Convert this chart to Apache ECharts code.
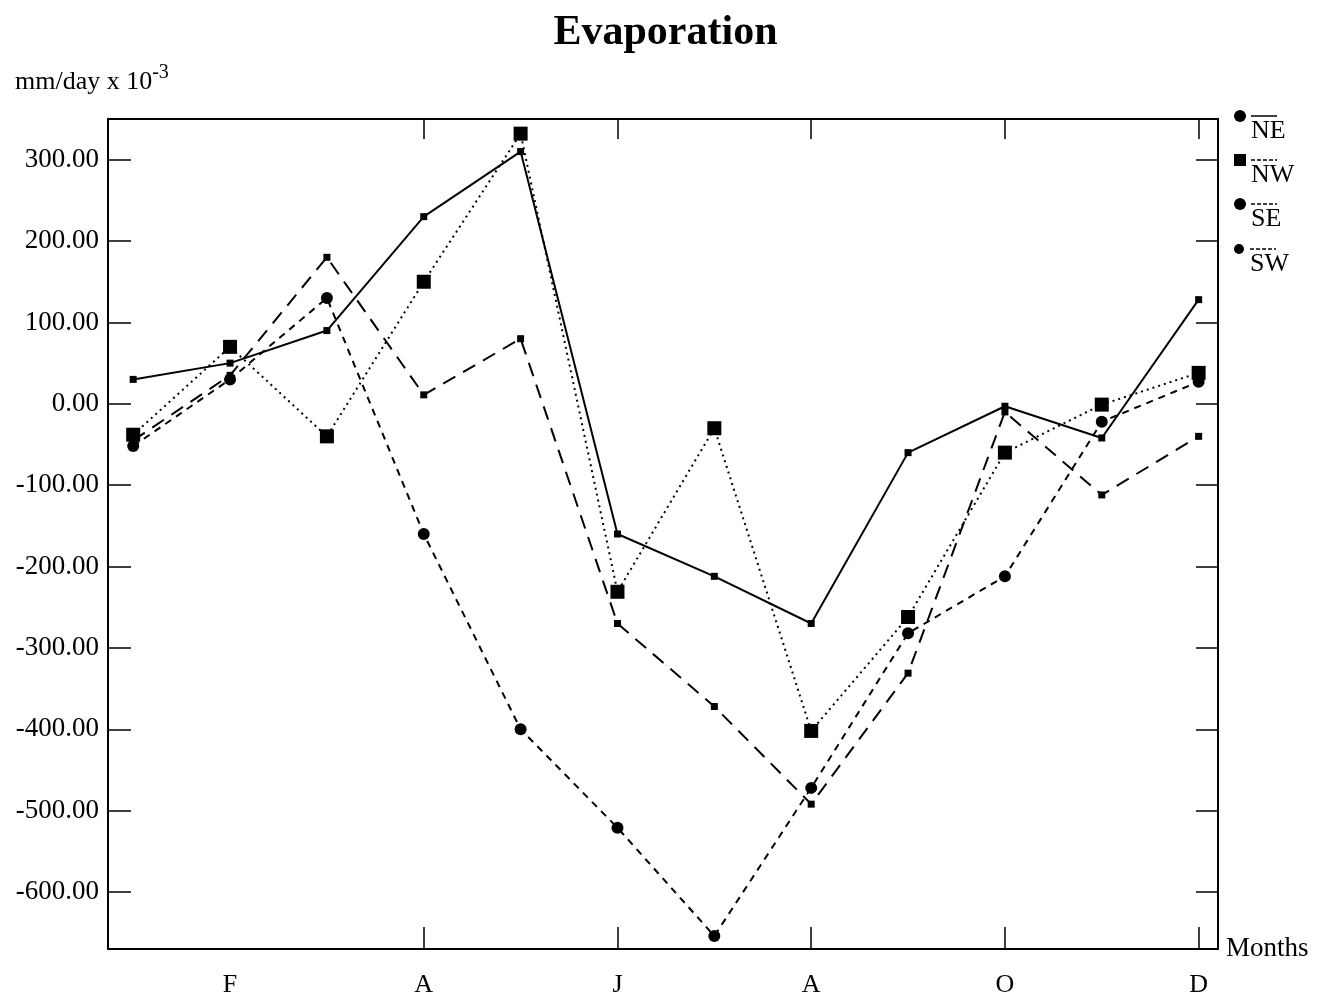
<!DOCTYPE html>
<html>
<head>
<meta charset="utf-8">
<script src="https://cdn.jsdelivr.net/npm/echarts@6/dist/echarts.min.js"></script>
<style>
  html, body { margin: 0; padding: 0; background: #fff; }
  #chart { width: 1331px; height: 1001px; }
</style>
</head>
<body>
<div id="chart"></div>
<script>
// months 1..12, only every other one gets a label
const months = [1, 2, 3, 4, 5, 6, 7, 8, 9, 10, 11, 12]
const monthLetters = ['J', 'F', 'M', 'A', 'M', 'J', 'J', 'A', 'S', 'O', 'N', 'D']
const labelMonths = [2, 4, 6, 8, 10, 12]
const tickMonths = [4, 6, 8, 10, 12]
const yTicks = [-600, -500, -400, -300, -200, -100, 0, 100, 200, 300]

// evaporation, mm/day x 10^-3
const ne = [30, 50, 90, 230, 310, -160, -212, -270, -60, -3, -42, 128]
const nw = [-38, 70, -40, 150, 332, -231, -30, -402, -262, -60, -1, 38]
const se = [-52, 30, 130, -160, -400, -521, -654, -472, -282, -212, -22, 27]
const sw = [-45, 35, 180, 11, 80, -270, -372, -492, -331, -10, -112, -40]

const FONT = 'Liberation Serif'

function pairs(vals) {
  return months.map((m, i) => [m, vals[i]])
}

// line style, marker and legend sample per series
const seriesDefs = [
  { name: 'NE', data: ne, type: 'solid', symbol: 'rect', size: 7, icon: 'circle', top: 105 },
  { name: 'NW', data: nw, type: [2, 4], symbol: 'rect', size: 14, icon: 'rect', top: 149 },
  { name: 'SE', data: se, type: [7, 6], symbol: 'circle', size: 12, icon: 'circle', top: 193 },
  { name: 'SW', data: sw, type: [14, 9], symbol: 'rect', size: 7, icon: 'circle', top: 238 },
]

const series = seriesDefs.map((d) => ({
  name: d.name,
  type: 'line',
  data: pairs(d.data),
  symbol: d.symbol,
  symbolSize: d.size,
  itemStyle: { color: '#000' },
  lineStyle: { color: '#000', width: 2, type: d.type },
  emphasis: { disabled: true },
  animation: false,
}))

const legends = seriesDefs.map((d) => ({
  show: true,
  selectedMode: false,
  left: 1229,
  top: d.top,
  itemWidth: 12,
  itemHeight: d.name === 'SW' ? 10 : 12,
  itemGap: 0,
  data: [{ name: d.name, icon: d.icon }],
  formatter: '{ln|}\n{t|{name}}',
  textStyle: {
    rich: {
      ln: {
        width: 26,
        height: 0,
        lineHeight: 30,
        verticalAlign: 'bottom',
        borderColor: '#000',
        borderWidth: 1,
        borderType: d.type === 'solid' ? 'solid' : 'dashed',
      },
      t: {
        fontFamily: FONT,
        fontSize: 26,
        color: '#000',
        lineHeight: 30,
      },
    },
  },
}))

const chart = echarts.init(document.getElementById('chart'))

chart.setOption({
  backgroundColor: '#fff',
  animation: false,
  title: [
    {
      text: 'Evaporation',
      left: 'center',
      top: 7,
      textStyle: { fontFamily: FONT, fontSize: 42, fontWeight: 'bold', color: '#000' },
    },
    {
      text: '{a|mm/day x 10}{s|-3}',
      left: 10,
      top: 58,
      textStyle: {
        fontWeight: 'normal',
        rich: {
          a: { fontFamily: FONT, fontSize: 26, fontWeight: 'normal', color: '#000', verticalAlign: 'bottom', lineHeight: 32 },
          s: { fontFamily: FONT, fontSize: 20, fontWeight: 'normal', color: '#000', verticalAlign: 'top', lineHeight: 32 },
        },
      },
    },
  ],
  legend: legends,
  grid: { left: 108, right: 113, top: 119, bottom: 52 },
  xAxis: [
    {
      type: 'value',
      min: 0.74,
      max: 12.2,
      position: 'bottom',
      name: 'Months',
      nameLocation: 'end',
      nameGap: 8,
      nameTextStyle: { fontFamily: FONT, fontSize: 27, color: '#000' },
      axisLine: { onZero: false, lineStyle: { color: '#000', width: 2 } },
      axisTick: { show: true, inside: true, length: 22, customValues: tickMonths, lineStyle: { color: '#000', width: 1.5 } },
      axisLabel: {
        customValues: labelMonths,
        formatter: (v) => monthLetters[Math.round(v) - 1],
        fontFamily: FONT,
        fontSize: 26,
        color: '#000',
        margin: 23,
      },
      splitLine: { show: false },
    },
    {
      type: 'value',
      min: 0.74,
      max: 12.2,
      position: 'top',
      axisLine: { onZero: false, lineStyle: { color: '#000', width: 2 } },
      axisTick: { show: true, inside: true, length: 20, customValues: tickMonths, lineStyle: { color: '#000', width: 1.5 } },
      axisLabel: { show: false },
      splitLine: { show: false },
    },
  ],
  yAxis: [
    {
      type: 'value',
      min: -670,
      max: 350,
      position: 'left',
      axisLine: { show: true, onZero: false, lineStyle: { color: '#000', width: 2 } },
      axisTick: { show: true, inside: true, length: 23, customValues: yTicks, lineStyle: { color: '#000', width: 1.5 } },
      axisLabel: {
        customValues: yTicks,
        formatter: (v) => v.toFixed(2),
        fontFamily: FONT,
        fontSize: 27,
        color: '#000',
        margin: 9,
      },
      splitLine: { show: false },
    },
    {
      type: 'value',
      min: -670,
      max: 350,
      position: 'right',
      axisLine: { show: true, onZero: false, lineStyle: { color: '#000', width: 2 } },
      axisTick: { show: true, inside: true, length: 22, customValues: yTicks, lineStyle: { color: '#000', width: 1.5 } },
      axisLabel: { show: false },
      splitLine: { show: false },
    },
  ],
  series: series,
})
</script>
</body>
</html>
